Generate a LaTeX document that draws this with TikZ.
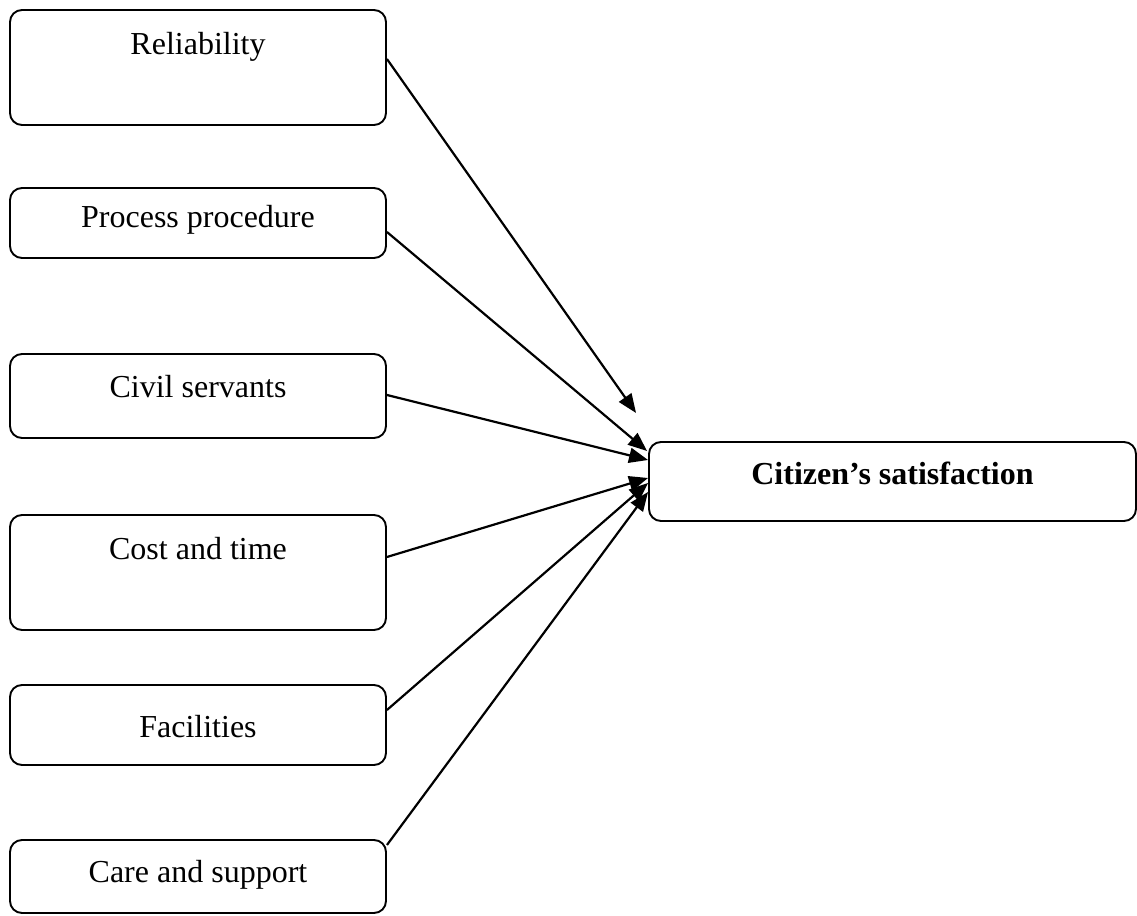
\documentclass[tikz,border=0pt]{standalone}
\usepackage{fontspec}
\setmainfont{Liberation Serif}
\usetikzlibrary{arrows.meta,calc}
\begin{document}
\begin{tikzpicture}[x=1pt,y=1pt,
  box/.style={draw, line width=1.9pt, rounded corners=12pt, inner sep=0pt, minimum width=376pt},
  lbl/.style={anchor=base, inner sep=0pt, font=\fontsize{32}{38}\selectfont},
  arr/.style={line width=2.2pt, -{Triangle[length=19pt,width=15pt]}}]
\useasboundingbox (0,0) rectangle (1137,915);
% left boxes
\node[box, minimum height=115pt] (b1) at (198,847.5) {};
\node[box, minimum height=70pt]  (b2) at (198,692) {};
\node[box, minimum height=84pt]  (b3) at (198,519) {};
\node[box, minimum height=115pt] (b4) at (198,342.5) {};
\node[box, minimum height=80pt]  (b5) at (198,190) {};
\node[box, minimum height=73pt]  (b6) at (198,38.5) {};
% labels
\node[lbl] (l1) at (198,860) {Reliability};
\node[lbl] (l2) at (198,687) {Process procedure};
\node[lbl] (l3) at (198,517) {Civil servants};
\node[lbl] (l4) at (198,355) {Cost and time};
\node[lbl] (l5) at (198,177) {Facilities};
\node[lbl] (l6) at (198,32) {Care and support};
% target
\node[box, minimum width=487pt, minimum height=79pt] (t) at (892.5,433.5) {};
\node[lbl, font=\fontsize{32}{38}\selectfont\bfseries] (tl) at (892.5,430) {Citizen’s satisfaction};
% end points
\coordinate (e1) at ([shift={(-12,68.5)}]t.west);
\coordinate (e2) at ([shift={(-1,30.5)}]t.west);
\coordinate (e3) at ([shift={(0,21.5)}]t.west);
\coordinate (e4) at ([shift={(0,3.5)}]t.west);
\coordinate (e5) at ([shift={(0,-1.5)}]t.west);
\coordinate (e6) at ([shift={(0,-10.5)}]t.west);
% arrows
\draw[arr] ([yshift=8.5pt]b1.east) -- (e1);
\draw[arr] ([yshift=-9pt]b2.east) -- (e2);
\draw[arr] ([yshift=1pt]b3.east) -- (e3);
\draw[arr] ([yshift=15.5pt]b4.east) -- (e4);
\draw[arr] ([yshift=15pt]b5.east) -- (e5);
\draw[arr] ([yshift=31.5pt]b6.east) -- (e6);
\end{tikzpicture}
\end{document}
